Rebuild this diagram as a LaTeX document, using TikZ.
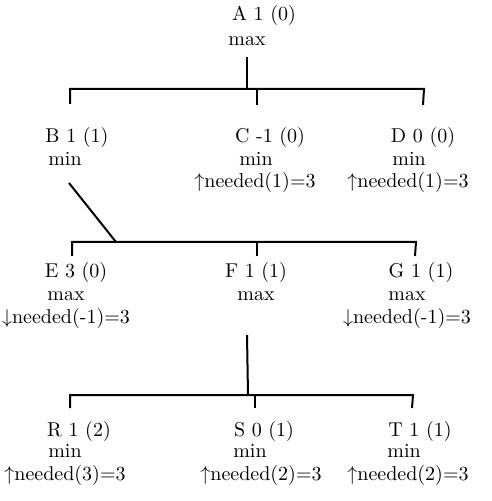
\documentclass[tikz,border=0pt]{standalone}
\begin{document}
\begin{tikzpicture}[x=0.5pt,y=-0.5pt,
  lbl/.style={anchor=base,inner sep=0pt,font=\fontsize{10}{12}\selectfont},
  edge/.style={line width=1pt,line cap=butt}]
\useasboundingbox (0,0) rectangle (491,501);
% level 0
\node[lbl] (A) at (264,21) {A 1 (0)};
\node[lbl] (Amax) at (247,46) {max};
% level 1
\node[lbl] (B) at (77,143) {B 1 (1)};
\node[lbl] (Bmin) at (65,166) {min};
\node[lbl] (C) at (270,143) {C -1 (0)};
\node[lbl] (Cmin) at (256,166) {min};
\node[lbl] (Cn) at (255,188) {$\uparrow$needed(1)=3};
\node[lbl] (D) at (423,143) {D 0 (0)};
\node[lbl] (Dmin) at (409,166) {min};
\node[lbl] (Dn) at (408,188) {$\uparrow$needed(1)=3};
% level 2
\node[lbl] (E) at (76,278) {E 3 (0)};
\node[lbl] (Emax) at (66,300) {max};
\node[lbl] (En) at (66,323) {$\downarrow$needed(-1)=3};
\node[lbl] (F) at (256,278) {F 1 (1)};
\node[lbl] (Fmax) at (256,300) {max};
\node[lbl] (G) at (421,278) {G 1 (1)};
\node[lbl] (Gmax) at (407,300) {max};
\node[lbl] (Gn) at (407,323) {$\downarrow$needed(-1)=3};
% level 3
\node[lbl] (R) at (79,436) {R 1 (2)};
\node[lbl] (Rmin) at (65,457) {min};
\node[lbl] (Rn) at (65,480) {$\uparrow$needed(3)=3};
\node[lbl] (S) at (264,436) {S 0 (1)};
\node[lbl] (Smin) at (250,457) {min};
\node[lbl] (Sn) at (261,480) {$\uparrow$needed(2)=3};
\node[lbl] (T) at (420,436) {T 1 (1)};
\node[lbl] (Tmin) at (404,457) {min};
\node[lbl] (Tn) at (408,480) {$\uparrow$needed(2)=3};
% connector points, first bracket
\coordinate (a0) at (247,57);
\coordinate (a1) at (247,89);
\coordinate (b1L) at (70,89);
\coordinate (b1R) at (424,89);
\coordinate (t1B) at (70,104);
\coordinate (m1C) at (257,89);
\coordinate (t1C) at (257,105);
\coordinate (m1D) at (423,89);
\coordinate (t1D) at (423,105);
% second bracket
\coordinate (bb0) at (69,183);
\coordinate (bb1) at (116,242);
\coordinate (b2L) at (72,242);
\coordinate (b2R) at (416,242);
\coordinate (t2E) at (72,256);
\coordinate (m2F) at (257,242);
\coordinate (t2F) at (257,256);
\coordinate (m2G) at (415,242);
\coordinate (t2G) at (415,256);
% third bracket
\coordinate (f0) at (247,335);
\coordinate (f1) at (248,395);
\coordinate (b3L) at (70,395);
\coordinate (b3R) at (413,395);
\coordinate (t3R) at (70,408);
\coordinate (m3S) at (255,395);
\coordinate (t3S) at (255,408);
\coordinate (m3T) at (412,395);
\coordinate (t3T) at (412,408);
\draw[edge] (a0) -- (a1);
\draw[edge] (t1B) -- (b1L) -- (b1R) -- (t1D);
\draw[edge] (m1C) -- (t1C);
\draw[edge] (bb0) -- (bb1);
\draw[edge] (t2E) -- (b2L) -- (b2R) -- (t2G);
\draw[edge] (m2F) -- (t2F);
\draw[edge] (f0) -- (f1);
\draw[edge] (t3R) -- (b3L) -- (b3R) -- (t3T);
\draw[edge] (m3S) -- (t3S);
\end{tikzpicture}
\end{document}
